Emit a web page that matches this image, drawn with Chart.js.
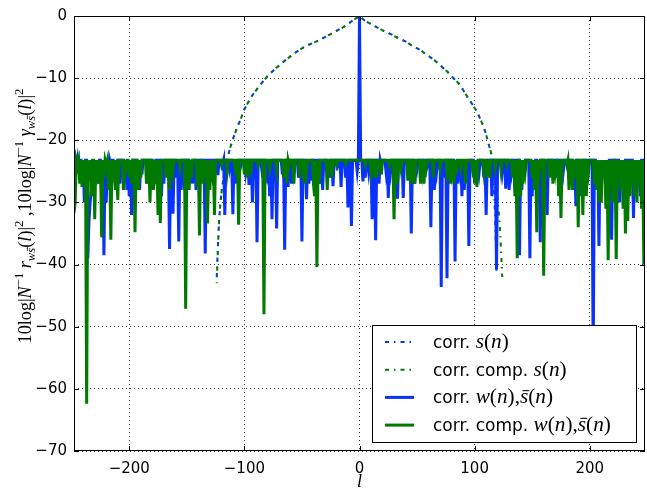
<!DOCTYPE html>
<html>
<head>
<meta charset="utf-8">
<script src="https://cdn.jsdelivr.net/npm/chart.js@4/dist/chart.umd.min.js"></script>
<style>
  html, body { margin: 0; padding: 0; background: #fff; }
  canvas { display: block; }
</style>
</head>
<body>
<canvas id="chart" width="647" height="493"></canvas>
<script>
// ---- data ----
const xTicks = [-200, -100, 0, 100, 200];
const yTicks = [0, -10, -20, -30, -40, -50, -60, -70];
const lagMin = -248, lagMax = 248;
const F = -23.2; // clipping level of the two noisy series (flat top)

// corr. s(n)   [lag, dB]
const corrS = [
  [-124,-42],[-123,-37],[-122,-33],[-121,-30.5],[-120,-28.5],[-118,-26],[-116,-24],[-114,-22.4],[-112,-21],[-109,-19.3],
  [-106,-17.8],[-103,-16.5],[-100,-15],[-97,-14],[-94,-13],[-90,-12],[-85,-10.8],[-80,-9.7],[-75,-8.8],[-70,-8],
  [-65,-7.2],[-60,-6.5],[-55,-5.8],[-50,-5.2],[-45,-4.7],[-40,-4.3],[-35,-3.9],[-30,-3.4],[-25,-2.9],[-20,-2.4],
  [-15,-1.9],[-10,-1.3],[-5,-0.6],[0,0],[5,-0.8],[10,-1.3],[14,-1.7],[20,-2.3],[27,-2.9],[33,-3.5],
  [40,-4.1],[46,-4.8],[53,-5.5],[59,-6.3],[65,-7.1],[70,-7.9],[76,-8.9],[81,-9.9],[86,-10.8],[90,-11.9],
  [94,-13.1],[98,-14.2],[102,-15.4],[105,-16.6],[108,-17.9],[110,-19.1],[112,-20.5],[114,-21.8],[115,-22.6],[116,-25],
  [117,-28.5],[118,-33.5],[119,-41]
];

// corr. comp. s(n)
const compS = [
  [-124,-43],[-123,-37.5],[-122,-33],[-121,-30.5],[-120,-28.5],[-118,-26],[-116,-24],[-114,-22.4],[-112,-21],[-109,-19.3],
  [-106,-17.8],[-103,-16.5],[-100,-15],[-97,-14],[-94,-13],[-90,-12],[-85,-10.8],[-80,-9.7],[-75,-8.8],[-70,-8],
  [-65,-7.2],[-60,-6.5],[-55,-5.8],[-50,-5.2],[-45,-4.7],[-40,-4.3],[-35,-3.9],[-30,-3.4],[-25,-2.9],[-20,-2.4],
  [-15,-1.9],[-10,-1.3],[-5,-0.6],[0,0],[5,-0.8],[10,-1.3],[14,-1.7],[20,-2.3],[27,-2.9],[33,-3.5],
  [40,-4.1],[46,-4.8],[53,-5.5],[59,-6.3],[65,-7.1],[70,-7.9],[76,-8.9],[81,-9.9],[86,-10.8],[90,-11.9],
  [94,-13.1],[98,-14.2],[102,-15.4],[105,-16.6],[108,-17.9],[110,-19.1],[112,-20.5],[114,-21.8],[115,-22.6],[116,-24],
  [118,-26.5],[120,-29.5],[122,-34],[123,-38],[124,-42]
];

// corr. w(n), s̄(n): lags where the curve drops below the flat top, and its value there
const corrWDips = [
  [-248,-26],[-246,-24.5],[-244,-25.3],[-241,-26],[-239,-30],[-236,-39],[-235,-33],[-234,-30],[-231,-25],[-229,-27],
  [-224,-29],[-222,-38.5],[-218,-26],[-216,-24],[-213,-25],[-208,-27],[-204,-25],[-202,-28],[-198,-32],[-193,-26],
  [-189,-25.5],[-184,-27],[-180,-26],[-175,-24.5],[-170,-27],[-165,-37.5],[-162,-31.8],[-159,-26],[-157,-36.3],[-152,-28],
  [-147,-25],[-142,-28],[-138,-27],[-134,-38.2],[-130,-26],[-126,-24.5],[-123,-25.6],[-119,-24],[-117,-32],[-113,-24.5],
  [-110,-31.9],[-108,-27],[-103,-24],[-99,-25],[-96,-27.2],[-93,-30],[-89,-36.4],[-85,-24.5],[-80,-25],[-76,-32.7],
  [-72,-34.2],[-67,-25.5],[-65,-37.6],[-62,-27.5],[-57,-25],[-53,-26],[-50,-36.3],[-46,-29.5],[-42,-26.5],[-37,-25],
  [-32,-28],[-28,-25],[-23,-27.4],[-19,-24],[-16,-27.5],[-12,-26],[-10,-30.8],[-7,-33.8],[-2,-25],[0,0],
  [3,-26.6],[8,-25],[11,-32.7],[14,-36.1],[19,-24],[23,-25],[25,-29.3],[27,-25],[30,-24.5],[33,-29.4],
  [38,-29.3],[42,-24.5],[45,-35],[50,-24.5],[55,-25],[59,-24],[62,-34],[67,-25],[71,-43.6],[73,-26],
  [76,-42.2],[80,-25],[83,-39.5],[87,-25],[89,-29],[93,-26],[95,-37],[100,-24.5],[104,-25],[108,-26],
  [110,-32],[115,-29],[119,-40.8],[124,-25],[127,-27.8],[132,-25],[136,-27],[139,-38.5],[143,-26],[148,-39],
  [152,-26],[157,-36.4],[161,-25],[163,-32],[168,-24.5],[172,-26],[177,-25],[182,-24],[186,-26],[188,-30.6],
  [193,-25],[198,-24],[203,-56],[206,-25],[208,-37],[212,-26],[216,-28],[219,-36],[223,-26],[226,-30],
  [230,-25],[235,-27],[238,-32.5],[242,-25],[244,-29],[248,-26]
];
// a few more dips of the same curve
const corrWMinor = [
  [-233,-28],[-227,-27],[-220,-30],[-211,-28],[-200,-29],[-191,-28],[-178,-27],[-172,-29],[-155,-28],[-145,-27],
  [-106,-27],[-82,-27],[-78,-29],[-59,-27],[-44,-27],[-34,-27],[-26,-26],[5,-26],[17,-27],[48,-27],
  [65,-28],[85,-27],[91,-28],[102,-27],[130,-28],[141,-28],[150,-29],[155,-27],[175,-27],[191,-29],
  [210,-29],[214,-28],[228,-27],[240,-28]
];

// corr. comp. w(n), s̄(n)
const compWDips = [
  [-248,-31.7],[-247,-30],[-245,-24],[-241,-27.5],[-239,-25],[-237,-62.4],[-235,-26],[-230,-32.7],[-228,-25],[-226,-27],
  [-224,-35.6],[-222,-26],[-220,-24],[-218,-28],[-216,-36],[-214,-25],[-210,-29.6],[-205,-28],[-203,-24.5],[-200,-26],
  [-195,-34.8],[-190,-26],[-185,-27],[-182,-30],[-177,-25],[-175,-32],[-173,-33.3],[-168,-26],[-162,-25],[-156,-24.5],
  [-151,-47.1],[-146,-26],[-141,-27.5],[-139,-35.3],[-134,-26],[-132,-33.4],[-128,-25],[-126,-32],[-120,-24],[-115,-25],
  [-108,-24.5],[-105,-33.6],[-100,-25.5],[-94,-24.5],[-88,-24],[-83,-48],[-78,-24.5],[-72,-25],[-66,-26],[-61,-24],
  [-57,-27],[-52,-26],[-46,-25],[-40,-27],[-39,-29],[-37,-40.4],[-35,-27],[-28,-28],[-20,-24],[-12,-23.8],
  [5,-24],[10,-25],[15,-26],[19,-25.5],[26,-24],[30,-32.7],[36,-24.5],[42,-26.5],[48,-27],[53,-27],
  [58,-24.5],[64,-26],[70,-24.5],[76,-25],[79,-27],[84,-25.5],[88,-24.5],[92,-27],[98,-24.5],[102,-27.5],
  [108,-25],[113,-26],[118,-24.5],[123,-25],[128,-24],[133,-26],[135,-29],[137,-39],[142,-27],[144,-25],
  [150,-26],[154,-34.8],[156,-25],[160,-41.8],[165,-26],[170,-25],[175,-32.5],[180,-24],[182,-28],[187,-26],
  [190,-34],[194,-32],[199,-25],[204,-27],[206,-28],[210,-30],[212,-26],[214,-31],[216,-39.3],[218,-27],
  [220,-30],[223,-39.1],[225,-26],[227,-28],[231,-35],[235,-29],[237,-25],[241,-30],[243,-27],[247,-40],
  [248,-38]
];
const compWMinor = [
  [-243,-27],[-233,-29],[-212,-28],[-198,-27],[-192,-28],[-179,-28],[-165,-28],[-148,-28],[-136,-27],[-130,-28],
  [-97,-26],[-63,-27],[-48,-27],[-24,-26],[13,-26],[33,-27],[45,-27],[56,-27],[82,-27],[100,-27],
  [111,-26],[140,-29],[152,-28],[168,-27],[173,-29],[185,-28],[197,-29],[208,-30],[229,-31],[233,-33],
  [239,-29],[245,-31]
];

const BLUE = "#0a32ff";
const GREEN = "#007a00";
const DASHDOT = [4, 5, 1.5, 5];

// rich text pieces (math italic etc.)
const yTitle = [
  { t: "10log|" }, { t: "N", it: 1 }, { t: "\u22121", up: 1, sz: 0.7 }, { t: " " },
  { t: "r", it: 1 }, { t: "w", it: 1, dn: 1, sz: 0.7 }, { t: "s", it: 1, dn: 1, sz: 0.7, bar: 1 },
  { t: "(" }, { t: "l", it: 1 }, { t: ")|" }, { t: "2", up: 1, sz: 0.7 },
  { t: " ,10log|" }, { t: "N", it: 1 }, { t: "\u22121", up: 1, sz: 0.7 }, { t: " " },
  { t: "\u03b3", it: 1 }, { t: "w", it: 1, dn: 1, sz: 0.7 }, { t: "s", it: 1, dn: 1, sz: 0.7, bar: 1 },
  { t: "(" }, { t: "l", it: 1 }, { t: ")|" }, { t: "2", up: 1, sz: 0.7 }
];
const M = 1.25; // math is set larger than the sans text in the legend
const sOfN = [{ t: "s", it: 1, sz: M }, { t: "(", sz: M }, { t: "n", it: 1, sz: M }, { t: ")", sz: M }];
const wsOfN = [{ t: "w", it: 1, sz: M }, { t: "(", sz: M }, { t: "n", it: 1, sz: M }, { t: "),", sz: M },
  { t: "s", it: 1, bar: 1, sz: M }, { t: "(", sz: M }, { t: "n", it: 1, sz: M }, { t: ")", sz: M }];
const legendRows = [
  { color: BLUE, dash: DASHDOT, text: [{ t: "corr. ", sans: 1 }].concat(sOfN) },
  { color: GREEN, dash: DASHDOT, text: [{ t: "corr. comp. ", sans: 1 }].concat(sOfN) },
  { color: BLUE, dash: [], text: [{ t: "corr. ", sans: 1 }].concat(wsOfN) },
  { color: GREEN, dash: [], text: [{ t: "corr. comp. ", sans: 1 }].concat(wsOfN) }
];

function fontOf(s, size) {
  const px = size * (s.sz || 1);
  const fam = s.sans ? "'DejaVu Sans'" : "'Liberation Serif'";
  return (s.it ? "italic " : "") + px + "px " + fam;
}

function richWidth(ctx, segs, size) {
  let w = 0;
  segs.forEach(s => { ctx.font = fontOf(s, size); w += ctx.measureText(s.t).width; });
  return w;
}

function drawRich(ctx, segs, x, y, size, center) {
  let cx = center ? x - richWidth(ctx, segs, size) / 2 : x;
  ctx.textAlign = "left";
  ctx.textBaseline = "alphabetic";
  segs.forEach(s => {
    ctx.font = fontOf(s, size);
    const dy = s.up ? -size * 0.42 : s.dn ? size * 0.22 : 0;
    ctx.fillText(s.t, cx, y + dy);
    const tw = ctx.measureText(s.t).width;
    if (s.bar) {
      const px = size * (s.sz || 1);
      ctx.save();
      ctx.lineWidth = Math.max(0.8, px * 0.05);
      ctx.strokeStyle = ctx.fillStyle;
      ctx.beginPath();
      ctx.moveTo(cx + px * 0.12, y + dy - px * 0.6);
      ctx.lineTo(cx + tw + px * 0.05, y + dy - px * 0.6);
      ctx.stroke();
      ctx.restore();
    }
    cx += tw;
  });
}

// table for a clipped series: the dips plus the flat top right beside each one
function clipped(dips) {
  const m = new Map(dips.map(d => [d[0], d[1]]));
  dips.forEach(d => [d[0] - 1, d[0] + 1].forEach(k => {
    if (!m.has(k) && k >= lagMin && k <= lagMax) m.set(k, F);
  }));
  [lagMin, lagMax].forEach(k => { if (!m.has(k)) m.set(k, F); });
  return [...m.entries()].sort((a, b) => a[0] - b[0]).map(e => ({ x: e[0], y: e[1] }));
}

const decor = {
  id: "decor",
  afterDraw(chart) {
    const { ctx, chartArea: a, scales: { x, y } } = chart;
    ctx.save();
    ctx.fillStyle = "#000";
    ctx.strokeStyle = "#000";
    ctx.lineWidth = 1;
    ctx.setLineDash([]);

    // frame
    ctx.strokeRect(Math.round(a.left) + 0.5, Math.round(a.top) + 0.5,
      Math.round(a.right - a.left) - 1, Math.round(a.bottom - a.top) - 1);

    // inward tick marks on all four sides
    ctx.beginPath();
    xTicks.forEach(v => {
      const px = Math.round(x.getPixelForValue(v)) + 0.5;
      ctx.moveTo(px, a.bottom); ctx.lineTo(px, a.bottom - 5);
      ctx.moveTo(px, a.top); ctx.lineTo(px, a.top + 5);
    });
    yTicks.forEach(v => {
      const py = Math.round(y.getPixelForValue(v)) + 0.5;
      ctx.moveTo(a.left, py); ctx.lineTo(a.left + 5, py);
      ctx.moveTo(a.right, py); ctx.lineTo(a.right - 5, py);
    });
    ctx.stroke();

    // legend
    const lx = 372.5, ly = 325.5, lw = 264, lh = 117;
    ctx.fillStyle = "#fff";
    ctx.fillRect(lx, ly, lw, lh);
    ctx.strokeRect(lx, ly, lw, lh);
    legendRows.forEach((r, i) => {
      const ry = 342 + i * 27.7;
      ctx.strokeStyle = r.color;
      ctx.lineWidth = r.dash.length ? 2 : 3;
      ctx.setLineDash(r.dash);
      ctx.beginPath();
      ctx.moveTo(385, ry); ctx.lineTo(414, ry);
      ctx.stroke();
      ctx.setLineDash([]);
      ctx.fillStyle = "#000";
      drawRich(ctx, r.text, 433, ry + 6, 17, false);
    });

    // axis titles
    ctx.fillStyle = "#000";
    ctx.save();
    ctx.translate(31, 216);
    ctx.rotate(-Math.PI / 2);
    const ts = 15 * 255 / richWidth(ctx, yTitle, 15);
    drawRich(ctx, yTitle, 0, 0, ts, true);
    ctx.restore();
    drawRich(ctx, [{ t: "l", it: 1 }], x.getPixelForValue(0), 487, 18, true);

    ctx.restore();
  }
};

function pts(arr) { return arr.map(p => ({ x: p[0], y: p[1] })); }
function minusFmt(v) { return v < 0 ? "\u2212" + (-v) : String(v); }

const tickFont = { family: "'DejaVu Sans'", size: 15 };

new Chart(document.getElementById("chart"), {
  type: "line",
  data: {
    datasets: [
      { label: "corr. s(n)", data: pts(corrS), borderColor: BLUE, borderWidth: 2, borderDash: DASHDOT, order: 4 },
      { label: "corr. comp. s(n)", data: pts(compS), borderColor: GREEN, borderWidth: 2, borderDash: DASHDOT, borderDashOffset: 3, order: 3 },
      { label: "corr. w(n),s\u0304(n)", data: clipped(corrWMinor.concat(corrWDips)), borderColor: BLUE, borderWidth: 3, order: 2 },
      { label: "corr. comp. w(n),s\u0304(n)", data: clipped(compWMinor.concat(compWDips)), borderColor: GREEN, borderWidth: 3, order: 1 }
    ].map(d => Object.assign(d, { pointRadius: 0, tension: 0, fill: false, borderJoinStyle: "miter" }))
  },
  options: {
    responsive: false,
    animation: false,
    devicePixelRatio: 1,
    layout: { padding: { top: 11, right: 2, left: 0, bottom: 0 } },
    plugins: { legend: { display: false }, tooltip: { enabled: false } },
    scales: {
      x: {
        type: "linear",
        min: lagMin,
        max: lagMax,
        afterBuildTicks: s => { s.ticks = xTicks.map(v => ({ value: v })); },
        afterFit: s => { s.height = 42; },
        grid: { color: "rgba(0,0,0,0.75)", lineWidth: 1, drawTicks: false },
        border: { display: false, dash: [1, 3] },
        ticks: { padding: 9, color: "#000", font: tickFont, callback: minusFmt }
      },
      y: {
        type: "linear",
        min: -70,
        max: 0,
        afterBuildTicks: s => { s.ticks = yTicks.map(v => ({ value: v })); },
        afterFit: s => { s.width = 74; },
        grid: { color: "rgba(0,0,0,0.75)", lineWidth: 1, drawTicks: false },
        border: { display: false, dash: [1, 3] },
        ticks: { padding: 7, color: "#000", font: tickFont, callback: minusFmt }
      }
    }
  },
  plugins: [decor]
});
</script>
</body>
</html>
